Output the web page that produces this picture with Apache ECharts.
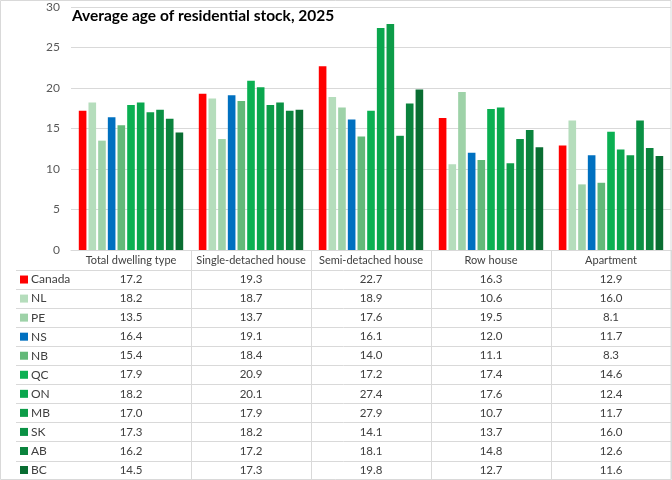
<!DOCTYPE html>
<html><head><meta charset="utf-8">
<script src="https://cdn.jsdelivr.net/npm/echarts@6/dist/echarts.min.js"></script>
<style>html,body{margin:0;padding:0;background:#fff}#c{width:672px;height:480px}</style>
</head><body><div id="c"></div>
<script>
const title = 'Average age of residential stock, 2025';
const categories = ['Total dwelling type','Single-detached house','Semi-detached house','Row house','Apartment'];
const regions = ['Canada','NL','PE','NS','NB','QC','ON','MB','SK','AB','BC'];
const colors = ['#FF0000','#B5DDBC','#9ED2A8','#0070C0','#63B979','#0BB052','#0AA74E','#0C9C48','#0A9144','#0A833D','#096D32'];
const Canada = [17.2,19.3,22.7,16.3,12.9];
const NL = [18.2,18.7,18.9,10.6,16.0];
const PE = [13.5,13.7,17.6,19.5,8.1];
const NS = [16.4,19.1,16.1,12.0,11.7];
const NB = [15.4,18.4,14.0,11.1,8.3];
const QC = [17.9,20.9,17.2,17.4,14.6];
const ON = [18.2,20.1,27.4,17.6,12.4];
const MB = [17.0,17.9,27.9,10.7,11.7];
const SK = [17.3,18.2,14.1,13.7,16.0];
const AB = [16.2,17.2,18.1,14.8,12.6];
const BC = [14.5,17.3,19.8,12.7,11.6];
const seriesValues = [Canada,NL,PE,NS,NB,QC,ON,MB,SK,AB,BC];
const yTicks = {min:0,max:30,interval:5};

const FONT = 'Lato';
const gridLeft = 71, gridTop = 7, gridBottom = 230, W = 672, H = 480;
const catW = (W - 1 - gridLeft) / categories.length;
const tableTop = H - gridBottom, headerH = 20, rowH = 19.05;
const lineC = '#D9D9D9', textC = '#404040';

const chart = echarts.init(document.getElementById('c'), null, {renderer:'canvas'});

const graphics = [];
graphics.push({type:'rect', shape:{x:0.5,y:0.5,width:W-1.5,height:H-1}, style:{fill:null,stroke:lineC,lineWidth:1}, z:0});
graphics.push({type:'text', left:gridLeft+1, top:8, style:{text:title, font:'bold 15.5px '+FONT, fill:'#000'}, z:10});
const tableBottom = tableTop + headerH + rowH*regions.length;
for (let i=1;i<=categories.length;i++){
  const x = Math.round(gridLeft + catW*i)+0.5;
  graphics.push({type:'line', shape:{x1:x,y1:tableTop,x2:x,y2:tableBottom}, style:{stroke:lineC,lineWidth:1}});
}
for (let r=0;r<=regions.length;r++){
  const y = Math.round(tableTop + headerH + rowH*r)+0.5;
  graphics.push({type:'line', shape:{x1:16,y1:y,x2:W-1,y2:y}, style:{stroke:lineC,lineWidth:1}});
}
regions.forEach((name,r)=>{
  const cy = tableTop + headerH + rowH*r + rowH/2;
  graphics.push({type:'rect', shape:{x:20,y:cy-4,width:8,height:8}, style:{fill:colors[r]}});
  graphics.push({type:'text', x:31, y:cy, style:{text:name, font:'12px '+FONT, fill:textC, textVerticalAlign:'middle', textAlign:'left'}});
  seriesValues[r].forEach((v,c)=>{
    graphics.push({type:'text', x:gridLeft + catW*c + catW/2, y:cy, style:{text:v.toFixed(1), font:'11.5px '+FONT, fill:textC, textAlign:'center', textVerticalAlign:'middle'}});
  });
});

chart.setOption({
  animation:false,
  backgroundColor:'#fff',
  grid:{left:gridLeft, right:1, top:gridTop, bottom:gridBottom, containLabel:false},
  xAxis:{type:'category', data:categories,
    axisLine:{lineStyle:{color:lineC}}, axisTick:{show:false},
    axisLabel:{color:textC, fontFamily:FONT, fontSize:11, margin:5, interval:0}},
  yAxis:{type:'value', min:yTicks.min, max:yTicks.max, interval:yTicks.interval,
    axisLine:{show:false}, axisTick:{show:false},
    splitLine:{lineStyle:{color:lineC}},
    axisLabel:{color:'#595959', fontFamily:FONT, fontSize:12, margin:11}},
  series: regions.map((name,i)=>({name, type:'bar', data:seriesValues[i], itemStyle:{color:colors[i]},
    barGap:'27%', barCategoryGap:'13%'})),
  graphic: graphics
});
</script></body></html>
